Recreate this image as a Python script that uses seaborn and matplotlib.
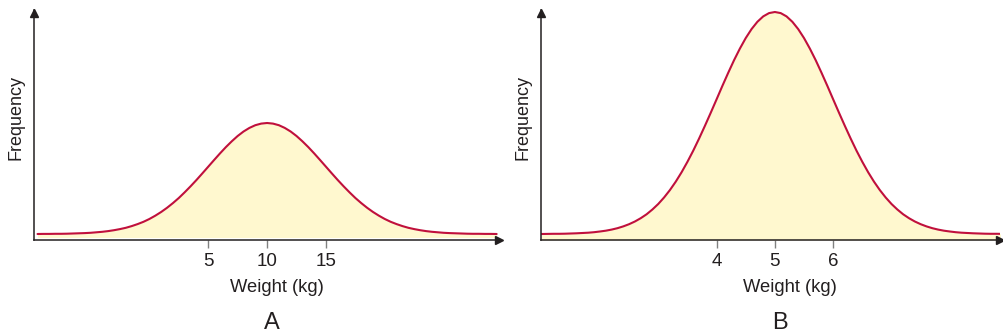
import matplotlib.pyplot as plt
import seaborn as sns

# panel A: weight (kg) and curve height (0.5 kg steps)
weight_a = [-9.5, -9.0, -8.5, -8.0, -7.5, -7.0, -6.5, -6.0, -5.5, -5.0, -4.5, -4.0,
            -3.5, -3.0, -2.5, -2.0, -1.5, -1.0, -0.5, 0.0, 0.5, 1.0, 1.5, 2.0, 2.5,
            3.0, 3.5, 4.0, 4.5, 5.0, 5.5, 6.0, 6.5, 7.0, 7.5, 8.0, 8.5, 9.0, 9.5,
            10.0, 10.5, 11.0, 11.5, 12.0, 12.5, 13.0, 13.5, 14.0, 14.5, 15.0, 15.5,
            16.0, 16.5, 17.0, 17.5, 18.0, 18.5, 19.0, 19.5, 20.0, 20.5, 21.0, 21.5,
            22.0, 22.5, 23.0, 23.5, 24.0, 24.5, 25.0, 25.5, 26.0, 26.5, 27.0, 27.5,
            28.0, 28.5, 29.0, 29.5]
freq_a = [6.0, 6.1, 6.1, 6.2, 6.2, 6.3, 6.5, 6.7, 6.9, 7.2, 7.7, 8.2, 8.9, 9.8, 10.9,
          12.2, 13.9, 15.9, 18.2, 21.0, 24.3, 28.0, 32.2, 36.9, 42.0, 47.7, 53.7,
          60.0, 66.6, 73.3, 80.0, 86.6, 92.9, 98.7, 104.0, 108.5, 112.1, 114.8, 116.4,
          117.0,
          116.4, 114.8, 112.1, 108.5, 104.0, 98.7, 92.9, 86.6, 80.0, 73.3, 66.6, 60.0,
          53.7, 47.7, 42.0, 36.9, 32.2, 28.0, 24.3, 21.0, 18.2, 15.9, 13.9, 12.2,
          10.9, 9.8, 8.9, 8.2, 7.7, 7.2, 6.9, 6.7, 6.5, 6.3, 6.2, 6.2, 6.1, 6.1, 6.0]
ticks_a = [5, 10, 15]

# panel B (0.1 kg steps)
weight_b = [1.0, 1.1, 1.2, 1.3, 1.4, 1.5, 1.6, 1.7, 1.8, 1.9, 2.0, 2.1, 2.2, 2.3,
            2.4, 2.5, 2.6, 2.7, 2.8, 2.9, 3.0, 3.1, 3.2, 3.3, 3.4, 3.5, 3.6, 3.7,
            3.8, 3.9, 4.0, 4.1, 4.2, 4.3, 4.4, 4.5, 4.6, 4.7, 4.8, 4.9, 5.0, 5.1,
            5.2, 5.3, 5.4, 5.5, 5.6, 5.7, 5.8, 5.9, 6.0, 6.1, 6.2, 6.3, 6.4, 6.5,
            6.6, 6.7, 6.8, 6.9, 7.0, 7.1, 7.2, 7.3, 7.4, 7.5, 7.6, 7.7, 7.8, 7.9,
            8.0, 8.1, 8.2, 8.3, 8.4, 8.5, 8.6, 8.7, 8.8, 8.9]
freq_b = [6.0, 6.1, 6.2, 6.2, 6.3, 6.5, 6.7, 7.0, 7.3, 7.8, 8.5, 9.3, 10.4, 11.8,
          13.6, 15.8, 18.5, 21.8, 25.7, 30.5, 36.0, 42.5, 49.9, 58.3, 67.7, 78.1,
          89.3, 101.4, 114.1, 127.2, 140.6, 154.1, 167.2, 179.8, 191.4, 201.9, 210.9,
          218.2, 223.6, 226.9,
          228.0,
          226.9, 223.6, 218.2, 210.9, 201.9, 191.4, 179.8, 167.2, 154.1, 140.6, 127.2,
          114.1, 101.4, 89.3, 78.1, 67.7, 58.3, 49.9, 42.5, 36.0, 30.5, 25.7, 21.8,
          18.5, 15.8, 13.6, 11.8, 10.4, 9.3, 8.5, 7.8, 7.3, 7.0, 6.7, 6.5, 6.3, 6.2,
          6.2, 6.1]
ticks_b = [4, 5, 6]

panel_labels = ["A", "B"]

LINE = "#c0103c"
FILL = "#fff8cf"
INK = "#231f20"

sns.set_theme(style="white")
plt.rcParams["font.family"] = ["Liberation Sans", "DejaVu Sans"]

W, H = 1004, 335
fig = plt.figure(figsize=(W / 100, H / 100), dpi=100)

# pixel layout: axes left/right, x-limits, fill floor, x of "Weight (kg)" and of the letter
panels = [
    (weight_a, freq_a, ticks_a, 34, 499, (-9.8, 29.7), 2.5, 277, 272),
    (weight_b, freq_b, ticks_b, 541, 1000, (0.99, 8.86), 0.0, 790, 780),
]

for i, (wx, fy, ticks, left, right, xlim, fill_base, xlab_x, letter_x) in enumerate(panels):
    ax = fig.add_axes([left / W, (H - 240) / H, (right - left) / W, 230 / H])
    ax.fill_between(wx, fy, fill_base, color=FILL, linewidth=0)
    sns.lineplot(x=wx, y=fy, ax=ax, color=LINE, linewidth=1.5)
    ax.set_xlim(*xlim)
    ax.set_ylim(0, 230)
    ax.set_xticks(ticks)
    ax.set_xticklabels([str(t) for t in ticks])
    ax.set_yticks([])
    ax.set_xlabel("")
    ax.set_ylabel("")
    for s in ["top", "right"]:
        ax.spines[s].set_visible(False)
    for s in ["left", "bottom"]:
        ax.spines[s].set_color(INK)
        ax.spines[s].set_linewidth(1.1)
    ax.tick_params(axis="x", direction="out", length=6, width=1, color="#808080",
                   labelsize=13.5, labelcolor=INK, pad=3, bottom=True)
    # arrow heads
    ax.plot(1, 0, ">", color=INK, markersize=6, transform=ax.transAxes, clip_on=False)
    ax.plot(0, 0.985, "^", color=INK, markersize=6, transform=ax.transAxes, clip_on=False)
    fig.text(xlab_x / W, 1 - 288 / H, "Weight (kg)", ha="center", va="center",
             fontsize=13.2, color=INK)
    fig.text((left - 18) / W, 1 - 118 / H, "Frequency", rotation=90, ha="center",
             va="center", fontsize=13, color=INK)
    fig.text(letter_x / W, 1 - 323 / H, panel_labels[i], ha="center", va="center",
             fontsize=17, color=INK)

plt.savefig("out.png", dpi=100)
